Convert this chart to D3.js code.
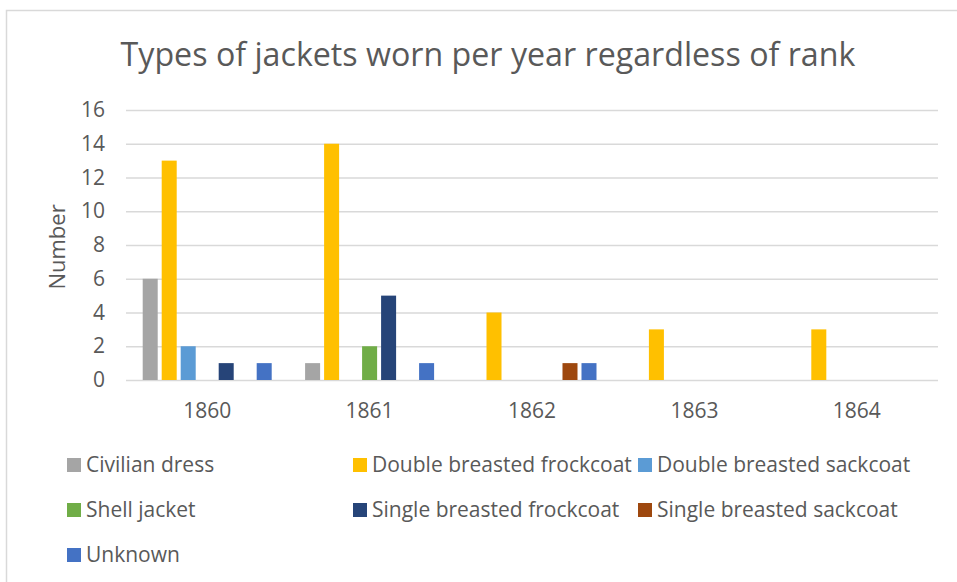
<!DOCTYPE html>
<html>
<head>
<meta charset="utf-8">
<script src="https://cdn.jsdelivr.net/npm/d3@7"></script>
<style>
  html, body { margin: 0; padding: 0; background: #fff; }
  svg { display: block; }
  text { font-family: "Open Sans", "Noto Sans", sans-serif; fill: #595959; }
</style>
</head>
<body>
<svg id="chart" width="957" height="582"></svg>
<script>
const years = ["1860", "1861", "1862", "1863", "1864"];
const seriesNames = [
  "Civilian dress",
  "Double breasted frockcoat",
  "Double breasted sackcoat",
  "Shell jacket",
  "Single breasted frockcoat",
  "Single breasted sackcoat",
  "Unknown"
];
const seriesColors = ["#A5A5A5", "#FFC000", "#5B9BD5", "#70AD47", "#264478", "#9E480E", "#4472C4"];
const civilianDress = [6, 1, 0, 0, 0];
const doubleBreastedFrockcoat = [13, 14, 4, 3, 3];
const doubleBreastedSackcoat = [2, 0, 0, 0, 0];
const shellJacket = [0, 2, 0, 0, 0];
const singleBreastedFrockcoat = [1, 5, 0, 0, 0];
const singleBreastedSackcoat = [0, 0, 1, 0, 0];
const unknown = [1, 1, 1, 0, 0];
const yTicks = [0, 2, 4, 6, 8, 10, 12, 14, 16];
const titleText = "Types of jackets worn per year regardless of rank";
const yAxisTitle = "Number";

const seriesValues = [civilianDress, doubleBreastedFrockcoat, doubleBreastedSackcoat,
  shellJacket, singleBreastedFrockcoat, singleBreastedSackcoat, unknown];

const svg = d3.select("#chart");

// chart border
svg.append("rect")
  .attr("x", 6.5).attr("y", 10.5)
  .attr("width", 1000).attr("height", 1000)
  .attr("fill", "none").attr("stroke", "#D9D9D9").attr("stroke-width", 1.5);

const plot = { left: 126, right: 938, top: 110, bottom: 380 };

const x0 = d3.scaleBand().domain(years).range([plot.left, plot.right]).padding(0);
const groupPad = 16.7;
const x1 = d3.scaleBand().domain(d3.range(seriesNames.length))
  .range([groupPad, x0.bandwidth() - groupPad]).paddingInner(0.21).paddingOuter(0);
const y = d3.scaleLinear().domain([0, 16]).range([plot.bottom, plot.top]);

// gridlines
const grid = svg.append("g")
  .attr("transform", `translate(${plot.left},0)`)
  .call(d3.axisLeft(y).tickValues(yTicks).tickSize(-(plot.right - plot.left)).tickFormat(""));
grid.select(".domain").remove();
grid.selectAll("line").attr("stroke", "#D9D9D9").attr("stroke-width", 1.5);

// y tick labels
const yAx = svg.append("g")
  .attr("transform", `translate(${plot.left - 21},0)`)
  .call(d3.axisLeft(y).tickValues(yTicks).tickSize(0).tickPadding(0));
yAx.select(".domain").remove();
yAx.selectAll("text").style("font-size", "21px").style("fill", "#595959")
  .style("font-family", '"Open Sans", sans-serif');

// x axis labels
const xAx = svg.append("g")
  .attr("transform", `translate(0,${plot.bottom})`)
  .call(d3.axisBottom(x0).tickSize(0).tickPadding(23));
xAx.select(".domain").remove();
xAx.selectAll("text").style("font-size", "21px").style("fill", "#595959")
  .style("font-family", '"Open Sans", sans-serif');

// bars
const groups = svg.append("g").selectAll("g")
  .data(years)
  .join("g")
  .attr("transform", d => `translate(${x0(d)},0)`);

groups.selectAll("rect")
  .data((d, i) => seriesValues.map((vals, s) => ({ s, v: vals[i] })))
  .join("rect")
  .attr("x", d => x1(d.s))
  .attr("width", x1.bandwidth())
  .attr("y", d => y(d.v))
  .attr("height", d => y(0) - y(d.v))
  .attr("fill", d => seriesColors[d.s]);

// title
svg.append("text")
  .attr("x", 488).attr("y", 66)
  .attr("text-anchor", "middle")
  .style("font-size", "32.2px")
  .style("fill", "#595959")
  .text(titleText);

// y axis title
svg.append("text")
  .attr("transform", `translate(65,${(plot.top + plot.bottom) / 2 + 2}) rotate(-90)`)
  .attr("text-anchor", "middle")
  .style("font-size", "22px")
  .text(yAxisTitle);

// legend
const legend = svg.append("g");
const colX = [67, 353, 638];
const rowY = [465, 510, 555];
const items = legend.selectAll("g")
  .data(seriesNames)
  .join("g")
  .attr("transform", (d, i) => `translate(${colX[i % 3]},${rowY[Math.floor(i / 3)]})`);
items.append("rect")
  .attr("x", 0).attr("y", -7).attr("width", 14).attr("height", 14)
  .attr("fill", (d, i) => seriesColors[i]);
items.append("text")
  .attr("x", 19).attr("y", 0).attr("dy", "0.35em")
  .style("font-size", "21px")
  .text(d => d);
</script>
</body>
</html>
